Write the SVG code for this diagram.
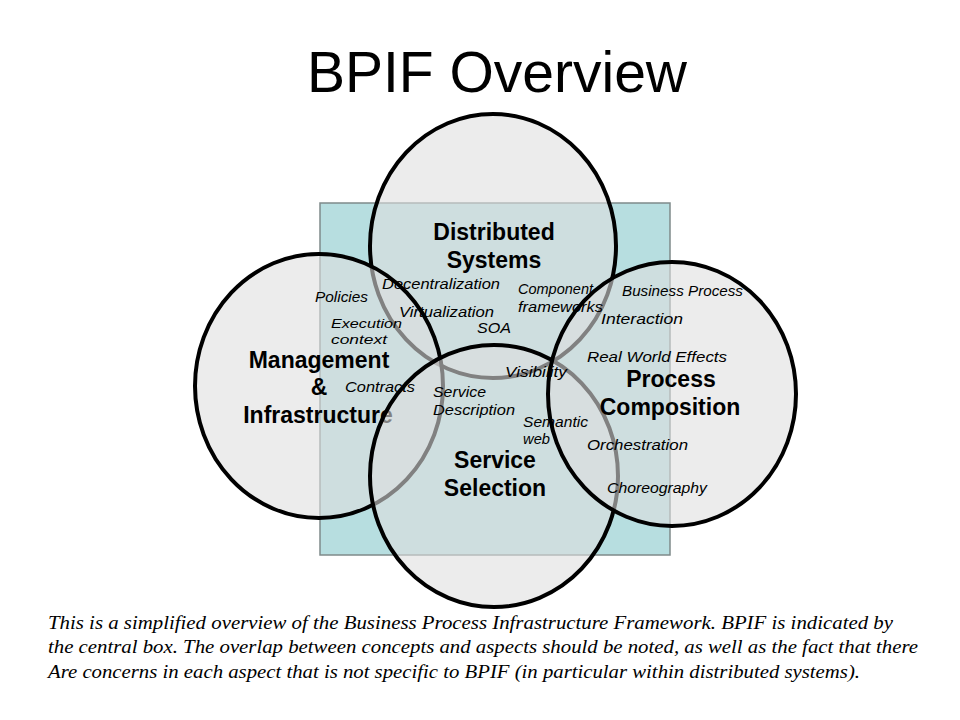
<svg xmlns="http://www.w3.org/2000/svg" width="960" height="720" viewBox="0 0 960 720">
<style>
.circ{fill:#dedede;fill-opacity:0.58;stroke:#000;stroke-width:4}
.lbl{font-family:"Liberation Sans",Arial,sans-serif;font-weight:bold;font-size:23px;fill:#000;text-anchor:middle}
.kw{font-family:"Liberation Sans",Arial,sans-serif;font-style:italic;font-size:14px;fill:#000}
.sm{font-size:13px}
.cap{font-family:"Liberation Serif","Times New Roman",serif;font-style:italic;font-size:19px;fill:#000}
</style>
<rect width="960" height="720" fill="#fff"/>
<text x="497" y="92" font-family="Liberation Sans, Arial, sans-serif" font-size="57" text-anchor="middle" fill="#000">BPIF Overview</text>
<g id="bpif-box">
<rect x="320" y="203" width="350" height="352" fill="#b7dee0" stroke="#7f8a8a" stroke-width="1.5"/>
</g>
<g id="distributed-systems">
<ellipse class="circ" cx="493" cy="246" rx="123" ry="132"/>
<text class="lbl" x="494" y="240">Distributed</text>
<text class="lbl" x="494" y="268">Systems</text>
</g>
<g id="management-infrastructure">
<ellipse class="circ" cx="319" cy="386" rx="124" ry="132"/>
<text class="lbl" x="319" y="368">Management</text>
<text class="lbl" x="319" y="395">&amp;</text>
<text class="lbl" x="318" y="423">Infrastructure</text>
</g>
<g id="service-selection">
<ellipse class="circ" cx="494" cy="476" rx="124" ry="131"/>
<text class="lbl" x="495" y="468">Service</text>
<text class="lbl" x="495" y="496">Selection</text>
</g>
<g id="process-composition">
<ellipse class="circ" cx="672" cy="394" rx="124" ry="132"/>
<text class="lbl" x="671" y="387">Process</text>
<text class="lbl" x="670" y="415">Composition</text>
</g>
<g id="concepts">
<text class="kw" x="382" y="289" textLength="118" lengthAdjust="spacingAndGlyphs">Decentralization</text>
<text class="kw" x="315" y="302" textLength="53" lengthAdjust="spacingAndGlyphs">Policies</text>
<text class="kw" x="518" y="294" textLength="75" lengthAdjust="spacingAndGlyphs">Component</text>
<text class="kw" x="518" y="312" textLength="85" lengthAdjust="spacingAndGlyphs">frameworks</text>
<text class="kw" x="399" y="317" textLength="95" lengthAdjust="spacingAndGlyphs">Virtualization</text>
<text class="kw sm" x="331" y="328" textLength="71" lengthAdjust="spacingAndGlyphs">Execution</text>
<text class="kw" x="477" y="333" textLength="34" lengthAdjust="spacingAndGlyphs">SOA</text>
<text class="kw sm" x="331" y="344" textLength="56" lengthAdjust="spacingAndGlyphs">context</text>
<text class="kw" x="622" y="296" textLength="121" lengthAdjust="spacingAndGlyphs">Business Process</text>
<text class="kw" x="601" y="324" textLength="82" lengthAdjust="spacingAndGlyphs">Interaction</text>
<text class="kw" x="587" y="362" textLength="140" lengthAdjust="spacingAndGlyphs">Real World Effects</text>
<text class="kw" x="505" y="377" textLength="62" lengthAdjust="spacingAndGlyphs">Visibility</text>
<text class="kw" x="345" y="392" textLength="70" lengthAdjust="spacingAndGlyphs">Contracts</text>
<text class="kw" x="433" y="397" textLength="53" lengthAdjust="spacingAndGlyphs">Service</text>
<text class="kw" x="433" y="415" textLength="82" lengthAdjust="spacingAndGlyphs">Description</text>
<text class="kw" x="523" y="427" textLength="65" lengthAdjust="spacingAndGlyphs">Semantic</text>
<text class="kw" x="523" y="444" textLength="27" lengthAdjust="spacingAndGlyphs">web</text>
<text class="kw" x="587" y="450" textLength="101" lengthAdjust="spacingAndGlyphs">Orchestration</text>
<text class="kw" x="607" y="493" textLength="100" lengthAdjust="spacingAndGlyphs">Choreography</text>
</g>
<g id="caption">
<text class="cap" x="48" y="629" textLength="845" lengthAdjust="spacingAndGlyphs">This is a simplified overview of the Business Process Infrastructure Framework. BPIF is indicated by</text>
<text class="cap" x="48" y="653" textLength="870" lengthAdjust="spacingAndGlyphs">the central box. The overlap between concepts and aspects should be noted, as well as the fact that there</text>
<text class="cap" x="48" y="678" textLength="812" lengthAdjust="spacingAndGlyphs">Are concerns in each aspect that is not specific to BPIF (in particular within distributed systems).</text>
</g>
</svg>
